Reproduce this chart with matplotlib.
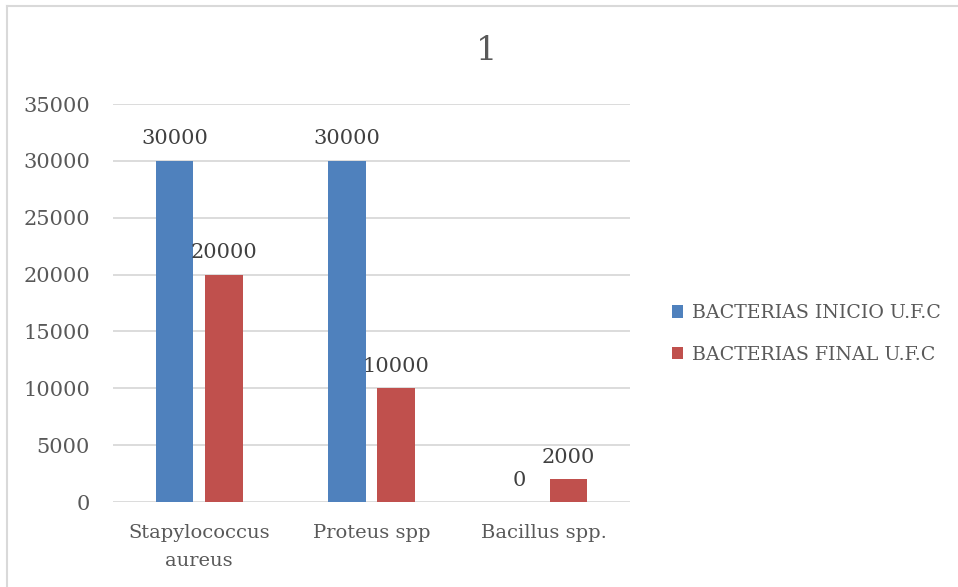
import matplotlib.pyplot as plt
from matplotlib.lines import Line2D
import numpy as np

categories = ["Stapylococcus\naureus", "Proteus spp", "Bacillus spp."]
inicio = [30000, 30000, 0]
final = [20000, 10000, 2000]
series_names = ["BACTERIAS INICIO U.F.C", "BACTERIAS FINAL U.F.C"]
y_ticks = [0, 5000, 10000, 15000, 20000, 25000, 30000, 35000]

blue = "#4f81bd"
red = "#c0504d"
axis_gray = "#595959"
label_gray = "#404040"
grid_gray = "#d9d9d9"

plt.rcParams["font.family"] = ["DejaVu Serif"]

fig = plt.figure(figsize=(9.58, 5.87), dpi=100)
ax = fig.add_axes([113 / 958, 1 - 502 / 587, 517 / 958, 398 / 587])

# outer chart frame: only the top and left edges are in view
top_y = 1 - 6 / 587
left_x = 7 / 958
fig.add_artist(Line2D([left_x, 1.0], [top_y, top_y], transform=fig.transFigure,
                      color=grid_gray, linewidth=1.5))
fig.add_artist(Line2D([left_x, left_x], [0.0, top_y], transform=fig.transFigure,
                      color=grid_gray, linewidth=1.5))

x = np.arange(len(categories))
w = 0.22
off = 0.143
b1 = ax.bar(x - off, inicio, w, color=blue, label=series_names[0], zorder=3)
b2 = ax.bar(x + off, final, w, color=red, label=series_names[1], zorder=3)

for bars, vals in ((b1, inicio), (b2, final)):
    for rect, v in zip(bars, vals):
        ax.annotate(f"{v}", (rect.get_x() + rect.get_width() / 2, v),
                    xytext=(0, 9), textcoords="offset points",
                    ha="center", va="bottom", fontsize=15, color=label_gray)

ax.set_xlim(-0.5, 2.5)
ax.set_ylim(0, 35000)
ax.set_yticks(y_ticks)
ax.set_yticklabels([str(t) for t in y_ticks])
ax.set_xticks(x)
ax.set_xticklabels(categories, linespacing=1.75)
ax.tick_params(axis="both", length=0, labelcolor=axis_gray)
ax.tick_params(axis="y", pad=16.5, labelsize=15)
ax.tick_params(axis="x", pad=15.5, labelsize=14)
ax.yaxis.grid(True, color=grid_gray, linewidth=1.3, zorder=0)
ax.set_axisbelow(True)
for s in ax.spines.values():
    s.set_visible(False)

fig.text(487 / 958, 1 - 51 / 587, "1", ha="center", va="center",
         fontsize=24, color=axis_gray)

fig.legend(handles=[b1, b2], labels=series_names, loc="center left",
           bbox_to_anchor=(662 / 958, 1 - 334 / 587), frameon=False,
           fontsize=13.7, labelcolor=axis_gray, handlelength=0.62,
           handleheight=0.62, handletextpad=0.45, labelspacing=1.25,
           borderpad=0)

fig.savefig("out.png", dpi=100)
